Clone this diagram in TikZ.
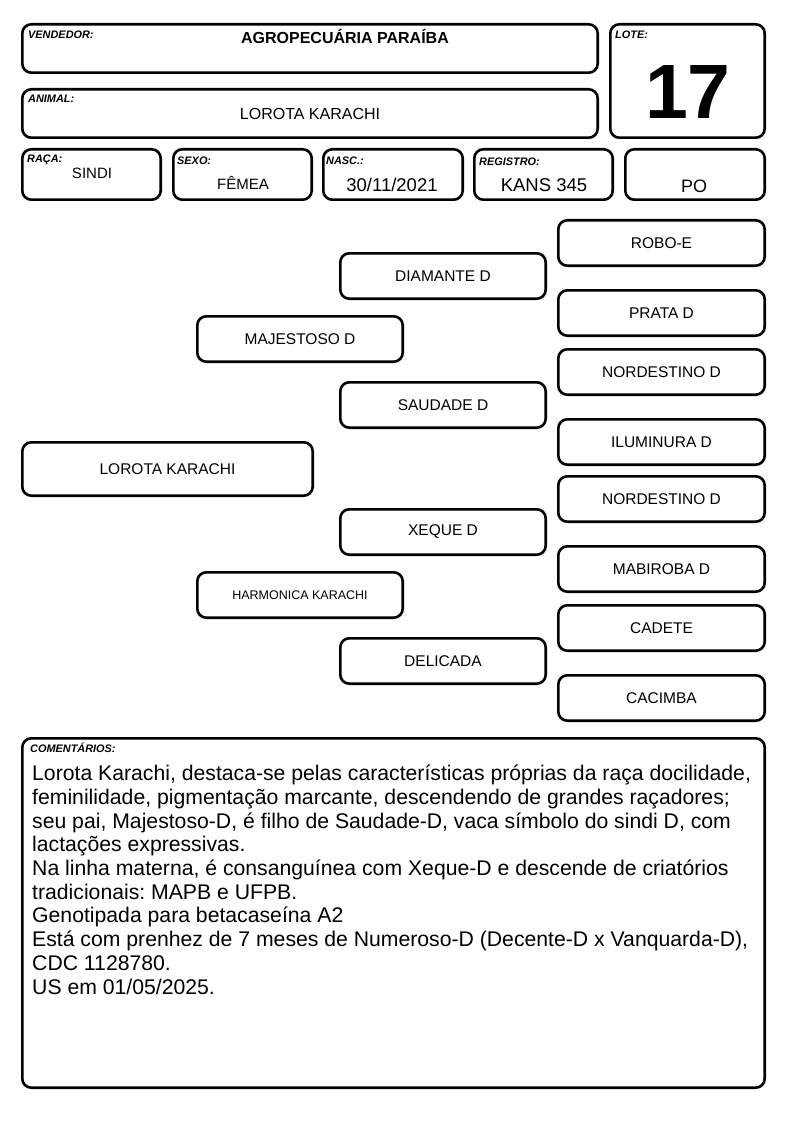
\documentclass[tikz,border=0pt]{standalone}
\usepackage{fontspec}
\setmainfont{Liberation Sans}
\usetikzlibrary{calc}
\frenchspacing
\newcommand\rbox[7]{\node[#1, minimum width={#4-#2-2.6}, minimum height={#5-#3-2.6}] (#6) at ({(#2+#4)/2},{(#3+#5)/2}) {#7};}
\begin{document}
\begin{tikzpicture}[x=1pt,y=-1pt,
  box/.style={draw, line width=2.6pt, rounded corners=9pt, inner sep=0pt, outer sep=0pt},
  ped/.style={box, font=\fontsize{15.5}{18}\selectfont, align=center},
  lbl/.style={font=\fontsize{10.9}{12}\selectfont\bfseries\itshape, anchor=base west, inner sep=0pt},
  val/.style={anchor=base, inner sep=0pt}]
\useasboundingbox (0,0) rectangle (794,1123);
% header boxes
\rbox{box}{21}{23}{599}{74}{vend}{}
\rbox{box}{21}{88}{599}{139}{anim}{}
\rbox{box}{609}{23}{766}{139}{lote}{}
\rbox{box}{21}{148}{162}{201}{raca}{}
\rbox{box}{172}{148}{313}{201}{sexo}{}
\rbox{box}{322}{148}{464}{201}{nasc}{}
\rbox{box}{473}{148}{614}{201}{reg}{}
\rbox{box}{624}{148}{766}{201}{po}{}
% labels
\node[lbl] (lv) at (28,39) {VENDEDOR:};
\node[lbl] (la) at (28,103) {ANIMAL:};
\node[lbl] (ll) at (615,39) {LOTE:};
\node[lbl] (lr) at (27,163) {RAÇA:};
\node[lbl] (ls) at (177,165) {SEXO:};
\node[lbl] (ln) at (326,165) {NASC.:};
\node[lbl] (lg) at (479,165.5) {REGISTRO:};
% values
\node[val, font=\fontsize{16}{19}\selectfont\bfseries] (vv) at (345,43.3) {AGROPECUÁRIA PARAÍBA};
\node[val, font=\fontsize{16}{19}\selectfont] (va) at (310,119.3) {LOROTA KARACHI};
\node[val, font=\fontsize{77}{80}\selectfont\bfseries] (vl) at (688,118.3) {17};
\node[val, font=\fontsize{15}{18}\selectfont] (vr) at (92,178.3) {SINDI};
\node[val, font=\fontsize{15}{18}\selectfont] (vs) at (243,189.3) {FÊMEA};
\node[val, font=\fontsize{18.5}{21}\selectfont] (vn) at (392,191.7) {30/11/2021};
\node[val, font=\fontsize{18.5}{21}\selectfont] (vg) at (544,191.7) {KANS 345};
\node[val, font=\fontsize{18}{21}\selectfont] (vp) at (694,192.7) {PO};
% pedigree
\rbox{ped}{21}{441}{314}{497}{animal}{LOROTA KARACHI}
\rbox{ped}{196}{315}{404}{363}{pai}{MAJESTOSO D}
\rbox{ped}{196}{571}{404}{619}{mae}{\fontsize{12.5}{15}\selectfont HARMONICA KARACHI}
\rbox{ped}{339}{252}{547}{300}{avp}{DIAMANTE D}
\rbox{ped}{339}{381}{547}{429}{avmp}{SAUDADE D}
\rbox{ped}{339}{508}{547}{556}{avm}{XEQUE D}
\rbox{ped}{339}{637}{547}{685}{avmm}{DELICADA}
\rbox{ped}{557}{219}{766}{267}{b1}{ROBO-E}
\rbox{ped}{557}{289}{766}{337}{b2}{PRATA D}
\rbox{ped}{557}{348}{766}{396}{b3}{NORDESTINO D}
\rbox{ped}{557}{418}{766}{466}{b4}{ILUMINURA D}
\rbox{ped}{557}{475}{766}{523}{b5}{NORDESTINO D}
\rbox{ped}{557}{545}{766}{593}{b6}{MABIROBA D}
\rbox{ped}{557}{604}{766}{652}{b7}{CADETE}
\rbox{ped}{557}{674}{766}{722}{b8}{CACIMBA}
% comments
\rbox{box}{21}{737}{766}{1089}{com}{}
\node[lbl] (lc) at (30,752.7) {COMENTÁRIOS:};
\node[anchor=base west, inner sep=0pt, align=left, font=\fontsize{21.2}{23.7}\selectfont] (txt) at (32,994) {Lorota Karachi, destaca-se pelas características próprias da raça docilidade,\\
feminilidade, pigmentação marcante, descendendo de grandes raçadores;\\
seu pai, Majestoso-D, é filho de Saudade-D, vaca símbolo do sindi D, com\\
lactações expressivas.\\
Na linha materna, é consanguínea com Xeque-D e descende de criatórios\\
tradicionais: MAPB e UFPB.\\
Genotipada para betacaseína A2\\
Está com prenhez de 7 meses de Numeroso-D (Decente-D x Vanquarda-D),\\
CDC 1128780.\\
US em 01/05/2025.};
\end{tikzpicture}
\end{document}
